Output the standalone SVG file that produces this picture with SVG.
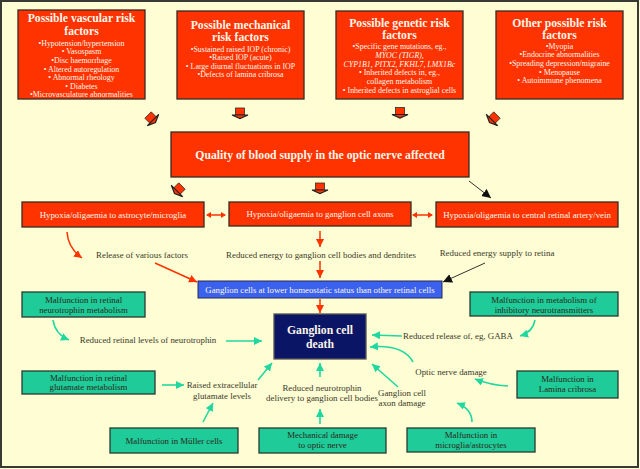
<svg xmlns="http://www.w3.org/2000/svg" width="640" height="469" viewBox="0 0 640 469">
<style>
.bg{fill:#FFFDD3}
.red{fill:#FF3300;stroke:#3a2a20;stroke-width:1.3}
.green{fill:#1FCB98;stroke:#2a3a30;stroke-width:1.3}
.title{font-family:"Liberation Serif",serif;font-weight:bold;font-size:11.7px;fill:#FFF6EA;text-anchor:middle}
.bul{font-family:"Liberation Serif",serif;font-size:7.9px;fill:#FFF6EA;text-anchor:middle}
.wt{font-family:"Liberation Serif",serif;font-size:8.8px;fill:#FFF6EA;text-anchor:middle}
.gt{font-family:"Liberation Serif",serif;font-size:8.8px;fill:#2a2a1a;text-anchor:middle}
.lbl{font-family:"Liberation Serif",serif;font-size:8.9px;fill:#3a3a2a;text-anchor:middle}
.ra{stroke:#FF3300;stroke-width:1.5;fill:none;marker-end:url(#mr)}
.ga{stroke:#1FD8A0;stroke-width:1.6;fill:none;marker-end:url(#mg)}
.ka{stroke:#333;stroke-width:1;fill:none;marker-end:url(#mk)}
</style>
<defs>
<marker id="mr" markerUnits="userSpaceOnUse" markerWidth="9" markerHeight="9" refX="8" refY="4" orient="auto"><path d="M0,0 L8,4 L0,8 Z" fill="#FF3300"/></marker>
<marker id="mg" markerUnits="userSpaceOnUse" markerWidth="9" markerHeight="9" refX="8" refY="4" orient="auto"><path d="M0,0 L8,4 L0,8 Z" fill="#1FD8A0"/></marker>
<marker id="mk" markerUnits="userSpaceOnUse" markerWidth="10" markerHeight="10" refX="9" refY="4.5" orient="auto"><path d="M0,0 L9,4.5 L0,9 Z" fill="#111"/></marker>
<g id="blk"><rect x="-4.5" y="-7" width="9" height="7" fill="#FF3300" stroke="#3a2a20" stroke-width="0.8"/><path d="M-8,0 L8,0 L0,3.5 Z" fill="#FF3300" stroke="#222" stroke-width="1.2"/></g>
</defs>
<rect class="bg" x="0" y="0" width="640" height="469"/>
<rect x="1" y="1" width="637" height="466" fill="none" stroke="#3a3a35" stroke-width="2"/>

<g id="vascular">
<rect class="red" x="18" y="10" width="127" height="89"/>
<text class="title" x="81.5" y="22">Possible vascular risk</text>
<text class="title" x="81.5" y="35">factors</text>
<text class="bul" x="81.5" y="45.5">•Hypotension/hypertension</text>
<text class="bul" x="81.5" y="54.2">• Vasospasm</text>
<text class="bul" x="81.5" y="62.8">•Disc haemorrhage</text>
<text class="bul" x="81.5" y="71.5">• Altered autoregulation</text>
<text class="bul" x="81.5" y="80.2">• Abnormal rheology</text>
<text class="bul" x="81.5" y="88.8">• Diabetes</text>
<text class="bul" x="81.5" y="97.2">•Microvasculature abnormalities</text>
</g>
<g id="mechanical">
<rect class="red" x="177" y="11" width="127" height="88"/>
<text class="title" x="240.5" y="29">Possible mechanical</text>
<text class="title" x="240.5" y="41">risk factors</text>
<text class="bul" x="240.5" y="51.5">•Sustained raised IOP (chronic)</text>
<text class="bul" x="240.5" y="60">•Raised IOP (acute)</text>
<text class="bul" x="240.5" y="68.5">• Large diurnal fluctuations in IOP</text>
<text class="bul" x="240.5" y="77">•Defects of lamina cribrosa</text>
</g>
<g id="genetic">
<rect class="red" x="336" y="11" width="127" height="88"/>
<text class="title" x="399.5" y="27">Possible genetic risk</text>
<text class="title" x="399.5" y="39">factors</text>
<text class="bul" x="399.5" y="48.5">•Specific gene mutations, eg., </text>
<text class="bul" x="399.5" y="57.5" font-style="italic">MYOC (TIGR),</text>
<text class="bul" x="399.5" y="66.5" font-style="italic">CYP1B1, PITX2, FKHL7, LMX1Bc</text>
<text class="bul" x="399.5" y="75">• Inherited defects in, eg., </text>
<text class="bul" x="399.5" y="83.5">collagen metabolism</text>
<text class="bul" x="399.5" y="92.5">• Inherited defects in astroglial cells</text>
</g>
<g id="other">
<rect class="red" x="496" y="11" width="127" height="88"/>
<text class="title" x="559.5" y="27">Other possible risk</text>
<text class="title" x="559.5" y="39">factors</text>
<text class="bul" x="559.5" y="48.5">•Myopia</text>
<text class="bul" x="559.5" y="57">•Endocrine abnormalities</text>
<text class="bul" x="559.5" y="65.7">•Spreading depression/migraine</text>
<text class="bul" x="559.5" y="74.5">• Menopause</text>
<text class="bul" x="559.5" y="83">• Autoimmune phenomena</text>
</g>

<g id="quality">
<rect class="red" x="171" y="132" width="298" height="45"/>
<text class="title" x="320" y="159" font-size="12.2px">Quality of blood supply in the optic nerve affected</text>
</g>

<g id="hyp-astro">
<rect class="red" x="22" y="202" width="182" height="25"/>
<text class="wt" x="113" y="217.5">Hypoxia/oligaemia to astrocyte/microglia</text>
</g>
<g id="hyp-axons">
<rect class="red" x="229" y="202" width="182" height="24"/>
<text class="wt" x="320" y="217">Hypoxia/oligaemia to ganglion cell axons</text>
</g>
<g id="hyp-central">
<rect class="red" x="436" y="202" width="182" height="25"/>
<text class="wt" x="527" y="217.5" font-size="8.5px">Hypoxia/oligaemia to central retinal artery/vein</text>
</g>

<g id="ganglion-lower">
<rect x="198" y="281" width="244" height="17" fill="#3A62EE" stroke="#2a2a50" stroke-width="1"/>
<text class="wt" x="320" y="292.5" font-size="8.6px" fill="#E6ECFF">Ganglion cells at lower homeostatic status than other retinal cells</text>
</g>

<g id="death">
<rect x="274" y="314" width="92" height="45" fill="#0A1566" stroke="#555" stroke-width="1.3"/>
<text class="title" x="320" y="334" font-size="14.2px">Ganglion cell</text>
<text class="title" x="320" y="348" font-size="14.2px">death</text>
</g>

<g id="g-neurotrophin">
<rect class="green" x="22" y="292" width="123" height="25"/>
<text class="gt" x="83.5" y="302.5">Malfunction in retinal</text>
<text class="gt" x="83.5" y="312.5">neurotrophin metabolism</text>
</g>
<g id="g-inhibitory">
<rect class="green" x="470" y="292" width="148" height="24"/>
<text class="gt" x="544" y="302.5">Malfunction in metabolism of</text>
<text class="gt" x="544" y="312.5">inhibitory neurotransmitters</text>
</g>
<g id="g-glutamate">
<rect class="green" x="22" y="371" width="133" height="23"/>
<text class="gt" x="88.5" y="380.5">Malfunction in retinal</text>
<text class="gt" x="88.5" y="390">glutamate metabolism</text>
</g>
<g id="g-lamina">
<rect class="green" x="517" y="371" width="101" height="27"/>
<text class="gt" x="567.5" y="382">Malfunction in</text>
<text class="gt" x="567.5" y="392">Lamina cribrosa</text>
</g>
<g id="g-muller">
<rect class="green" x="110" y="428" width="128" height="25"/>
<text class="gt" x="174" y="443.5">Malfunction in Müller cells</text>
</g>
<g id="g-mechanical">
<rect class="green" x="259" y="428" width="127" height="25"/>
<text class="gt" x="322.5" y="438">Mechanical damage</text>
<text class="gt" x="322.5" y="448">to optic nerve</text>
</g>
<g id="g-microglia">
<rect class="green" x="407" y="428" width="128" height="24"/>
<text class="gt" x="471" y="438">Malfunction in</text>
<text class="gt" x="471" y="448">microglia/astrocytes</text>
</g>

<g id="labels">
<text class="lbl" x="142" y="258">Release of various factors</text>
<text class="lbl" x="321" y="258">Reduced energy to ganglion cell bodies and dendrites</text>
<text class="lbl" x="497" y="256">Reduced energy supply to retina</text>
<text class="lbl" x="148" y="343">Reduced retinal levels of neurotrophin</text>
<text class="lbl" x="458" y="339">Reduced release of, eg, GABA</text>
<text class="lbl" x="451" y="375">Optic nerve damage</text>
<text class="lbl" x="402" y="396" text-anchor="start">Ganglion cell</text>
<text class="lbl" x="402" y="406" text-anchor="start">axon damage</text>
<text class="lbl" x="222" y="388">Raised extracellular</text>
<text class="lbl" x="222" y="399">glutamate levels</text>
<text class="lbl" x="322" y="391">Reduced neurotrophin</text>
<text class="lbl" x="322" y="401">delivery to ganglion cell bodies</text>
</g>

<g id="connectors">
<use href="#blk" transform="translate(153,120) rotate(-45)"/>
<use href="#blk" transform="translate(240,115)"/>
<use href="#blk" transform="translate(400,114.5)"/>
<use href="#blk" transform="translate(492,120) rotate(45)"/>
<use href="#blk" transform="translate(177,191) rotate(45)"/>
<use href="#blk" transform="translate(320,190)"/>
<path class="ka" d="M469,181 L491,198"/>
<path d="M207,215 L225,215" stroke="#FF3300" stroke-width="1.5"/>
<path d="M206,215 L211,212 L211,218 Z M226,215 L221,212 L221,218 Z" fill="#FF3300"/>
<path d="M413,215 L432,215" stroke="#FF3300" stroke-width="1.5"/>
<path d="M412,215 L417,212 L417,218 Z M433,215 L428,212 L428,218 Z" fill="#FF3300"/>
<path class="ra" d="M67,232 Q68,248 82,258"/>
<path class="ra" d="M155,263 L197,282"/>
<path class="ra" d="M320,231 L320,247"/>
<path class="ra" d="M320,261 L320,278"/>
<path class="ra" d="M320,299 L320,313"/>
<path class="ka" d="M485,263 L443,282"/>
<path class="ga" d="M53,320 Q55,334 69,340"/>
<path class="ga" d="M226,341 L262,341"/>
<path class="ga" d="M402,336 L372,335"/>
<path class="ga" d="M535,320 Q533,332 520,336"/>
<path class="ga" d="M413,362 Q403,344 370,347"/>
<path class="ga" d="M508,386 Q490,385 475,379"/>
<path class="ga" d="M398,387 L372,364"/>
<path class="ga" d="M472,422 Q472,409 457,403"/>
<path class="ga" d="M162,385 L184,385"/>
<path class="ga" d="M203,422 L213,403"/>
<path class="ga" d="M258,380 L272,363"/>
<path class="ga" d="M320,377 L320,363"/>
<path class="ga" d="M320,424 L320,409"/>
</g>
</svg>
